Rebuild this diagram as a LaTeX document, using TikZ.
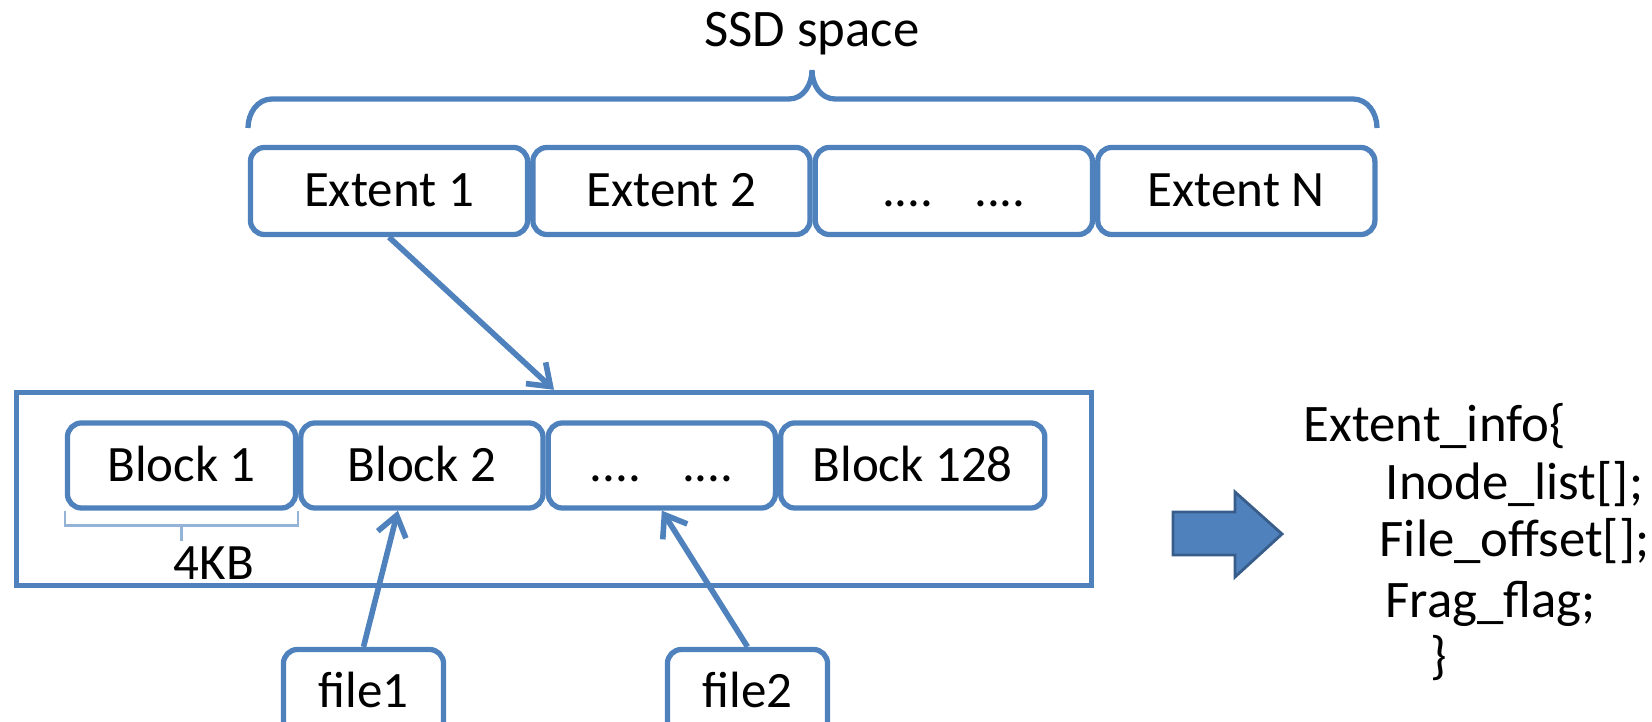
\documentclass[tikz,border=0pt]{standalone}
\usepackage{fontspec}
\setmainfont{Carlito}
\usetikzlibrary{arrows.meta, positioning}

\definecolor{ssdblue}{RGB}{79,129,189}
\definecolor{ssddark}{RGB}{56,93,138}

\begin{document}
\begin{tikzpicture}[
  x=0.01cm, y=-0.01cm,
  font=\fontsize{14.5}{17}\selectfont,
  >={Straight Barb[length=2mm, width=2.9mm]},
  node distance=0pt,
  slot/.style={draw=ssdblue, line width=1.5pt, rounded corners=4pt,
               fill=white, minimum height=0.85cm,
               text height=9pt, text depth=0pt, inner sep=0pt},
  extentbox/.style={slot, minimum width=2.77cm, minimum height=0.87cm},
  filebox/.style={slot, minimum width=1.6cm},
  holder/.style={draw=ssdblue, line width=1.5pt,
                 minimum width=10.75cm, minimum height=1.93cm},
  arr/.style={->, draw=ssdblue, line width=1.6pt},
  curly/.style={draw=ssdblue, line width=1.5pt},
  bracket/.style={draw=ssdblue!60, line width=0.7pt},
  bigarrow/.style={fill=ssdblue, draw=ssddark, line width=0.8pt},
  codeline/.style={anchor=base west, inner sep=0pt,
                   font=\fontsize{15}{18}\selectfont}
]
\path[use as bounding box, clip] (0,0) rectangle (1652,722);

% whole disk, split into extents
\node[anchor=base, font=\fontsize{15}{18}\selectfont] (ssd) at (812,47) {SSD space};
\draw[curly] (248,128) to[out=90,in=180] (272,99) -- (789,99)
  to[out=0,in=270] (812,70) to[out=270,in=180] (835,99)
  -- (1353,99) to[out=0,in=90] (1377,128);

\node[extentbox] (e1) at (389,191) {Extent 1};
\node[extentbox, right=of e1] (e2) {Extent 2};
\node[extentbox, right=of e2] (e3) {....\hspace{0.8em}....};
\node[extentbox, right=of e3] (e4) {Extent N};

% one extent, split into blocks
\node[holder] (ext) at (554,489) {};
\node[slot, minimum width=2.28cm] (b1) at (181.5,465.5) {Block 1};
\node[slot, minimum width=2.42cm, right=of b1] (b2) {Block 2};
\node[slot, minimum width=2.27cm, right=of b2] (b3) {....\hspace{0.8em}....};
\node[slot, minimum width=2.64cm, right=of b3] (b4) {Block 128};

\draw[bracket] (b1.south west) -- ++(0,15) -| (b1.south east);
\draw[bracket] ([yshift=-1.5mm]b1.south) -- ++(0,15);
\node (kb) at (214,563) {4KB};

\draw[arr] (e1.south) -- (ext.north);

% files pointing into blocks
\node[filebox] (f1) at (363.5,692) {file1};
\node[filebox] (f2) at (747.5,692) {file2};
\draw[arr] (f1.north) -- ([xshift=-2.4mm]b2.south);
\draw[arr] (f2.north) -- (b3.south);

% per-extent metadata
\draw[bigarrow] (1173,512) -- (1235,512) -- (1235,492) -- (1282,534)
  -- (1235,577) -- (1235,555) -- (1173,555) -- cycle;
\node[codeline] (l0) at (1303,442) {Extent\_info\{};
\node[codeline] (l1) at (1385,500) {Inode\_list[];};
\node[codeline] (l2) at (1379,557) {File\_offset[];};
\node[codeline] (l3) at (1385,617) {Frag\_flag;};
\node[codeline] (l4) at (1430,673) {\}};
\end{tikzpicture}
\end{document}
